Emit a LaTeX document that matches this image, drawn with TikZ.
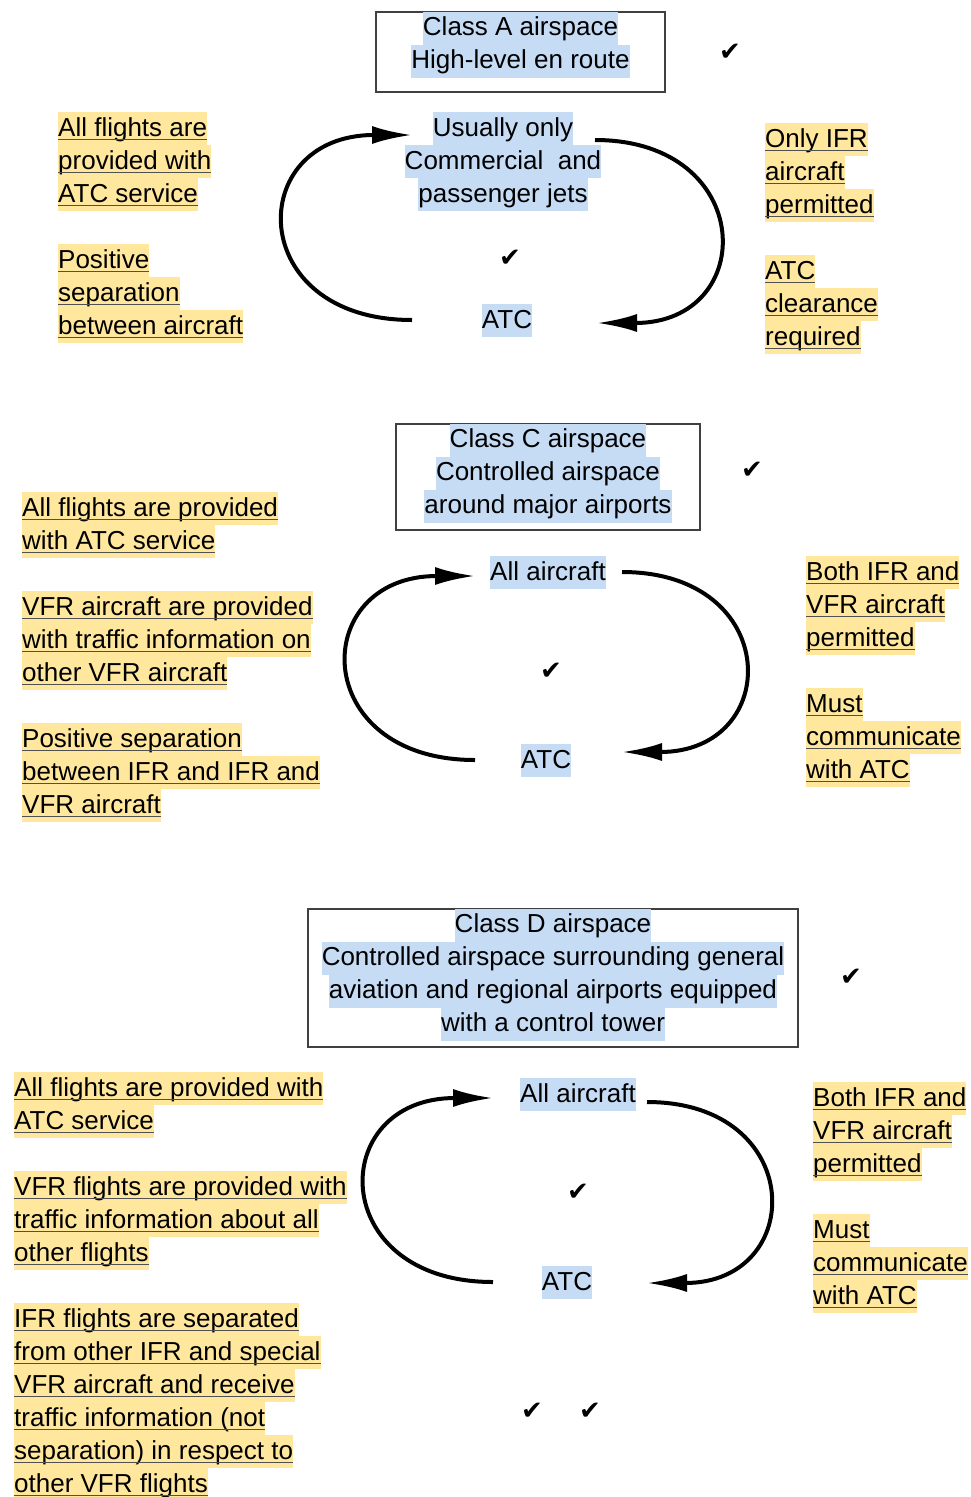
\documentclass[tikz,border=0pt]{standalone}
\usepackage{fontspec}
\setmainfont{Liberation Sans}
\newfontfamily\chkfont{DejaVu Sans}
\usepackage{tikz}
\usetikzlibrary{arrows.meta,positioning,calc}
\definecolor{hlyel}{HTML}{FFE89E}
\definecolor{hlblue}{HTML}{C6DCF5}
\definecolor{ulgray}{HTML}{505050}
\definecolor{boxgray}{HTML}{404040}
% highlighted lines
\newsavebox\hlbox
\newcommand\hy[1]{\sbox\hlbox{#1}{\fboxsep=0pt\colorbox{hlyel}{\rule[-9pt]{0pt}{33pt}\usebox\hlbox}}\llap{\color{ulgray}\rule[-4pt]{\wd\hlbox}{1.4pt}}}
\newcommand\hb[1]{{\fboxsep=0pt\colorbox{hlblue}{\rule[-9pt]{0pt}{33pt}#1}}}
\tikzstyle{note}=[inner sep=0pt,anchor=north west,align=left]
\tikzstyle{mid}=[inner sep=0pt,anchor=north,align=center]
\tikzstyle{frame}=[draw=boxgray,line width=1.3pt,inner sep=0pt]
\tikzstyle{tick}=[inner sep=0pt,font=\chkfont\fontsize{26}{26}\selectfont]
\tikzstyle{cyc}=[line width=4pt,-{Latex[length=40pt,width=18pt]}]

\begin{document}
\begin{tikzpicture}[x=1pt,y=-1pt,font=\fontsize{26}{33}\selectfont]
\useasboundingbox (0,0) rectangle (970,1497);

% ---- Class A
\node[frame,minimum width=289pt,minimum height=80pt] (boxA) at (520.5,52) {};
\node[mid] (titleA) at (boxA.north) {\hb{Class A airspace}\\\hb{High-level en route}};
\node[tick] (tkA) at (730,52) {✔};
\node[note] (leftA) at (58,112) {\hy{All flights are}\\\hy{provided with}\\\hy{ATC service}\\[33pt]
  \hy{Positive}\\\hy{separation}\\\hy{between aircraft}};
\node[note] (rightA) at (765,123) {\hy{Only IFR}\\\hy{aircraft}\\\hy{permitted}\\[33pt]
  \hy{ATC}\\\hy{clearance}\\\hy{required}};
\node[mid] (jetsA) at (503,112) {\hb{Usually only}\\\hb{Commercial\ \ and}\\\hb{passenger jets}};
\node[mid] (atcA) at (507,304) {\hb{ATC}};
\node[tick] (tkA2) at (510,258) {✔};
\coordinate (a1) at (412,320);
\coordinate (a2) at (412,135);
\coordinate (a3) at (595,140);
\coordinate (a4) at (597,323);
\draw[cyc] (a1) .. controls +(-168,0) and +(-168,0) .. (a2);
\draw[cyc] (a3) .. controls +(162,0) and +(162,0) .. (a4);

% ---- Class C
\node[frame,minimum width=304pt,minimum height=106pt] (boxC) at (548,477) {};
\node[mid] (titleC) at (boxC.north) {\hb{Class C airspace}\\\hb{Controlled airspace}\\\hb{around major airports}};
\node[tick] (tkC) at (752,470) {✔};
\node[note] (leftC) at (22,492) {\hy{All flights are provided}\\\hy{with ATC service}\\[33pt]
  \hy{VFR aircraft are provided}\\\hy{with traffic information on}\\\hy{other VFR aircraft}\\[33pt]
  \hy{Positive separation}\\\hy{between IFR and IFR and}\\\hy{VFR aircraft}};
\node[note] (rightC) at (806,556) {\hy{Both IFR and}\\\hy{VFR aircraft}\\\hy{permitted}\\[33pt]
  \hy{Must}\\\hy{communicate}\\\hy{with ATC}};
\node[mid] (allC) at (548,556) {\hb{All aircraft}};
\node[mid] (atcC) at (546,744) {\hb{ATC}};
\node[tick] (tkC2) at (551,671) {✔};
\coordinate (c1) at (475,760);
\coordinate (c2) at (475,576);
\coordinate (c3) at (622,572);
\coordinate (c4) at (622,752);
\draw[cyc] (c1) .. controls +(-167,0) and +(-167,0) .. (c2);
\draw[cyc] (c3) .. controls +(161,0) and +(161,0) .. (c4);

% ---- Class D
\node[frame,minimum width=490pt,minimum height=138pt] (boxD) at (553,978) {};
\node[mid] (titleD) at (boxD.north) {\hb{Class D airspace}\\\hb{Controlled airspace surrounding general}\\
  \hb{aviation and regional airports equipped}\\\hb{with a control tower}};
\node[tick] (tkD) at (851,977) {✔};
\node[note] (leftD) at (14,1072) {\hy{All flights are provided with}\\\hy{ATC service}\\[33pt]
  \hy{VFR flights are provided with}\\\hy{traffic information about all}\\\hy{other flights}\\[33pt]
  \hy{IFR flights are separated}\\\hy{from other IFR and special}\\\hy{VFR aircraft and receive}\\
  \hy{traffic information (not}\\\hy{separation) in respect to}\\\hy{other VFR flights}};
\node[note] (rightD) at (813,1082) {\hy{Both IFR and}\\\hy{VFR aircraft}\\\hy{permitted}\\[33pt]
  \hy{Must}\\\hy{communicate}\\\hy{with ATC}};
\node[mid] (allD) at (578,1078) {\hb{All aircraft}};
\node[mid] (atcD) at (567,1266) {\hb{ATC}};
\node[tick] (tkD2) at (578,1192) {✔};
\node[tick] (tkD3) at (532,1411) {✔};
\node[tick] (tkD4) at (590,1411) {✔};
\coordinate (d1) at (493,1282);
\coordinate (d2) at (493,1098);
\coordinate (d3) at (647,1102);
\coordinate (d4) at (647,1283);
\draw[cyc] (d1) .. controls +(-167,0) and +(-167,0) .. (d2);
\draw[cyc] (d3) .. controls +(160,0) and +(160,0) .. (d4);
\end{tikzpicture}
\end{document}
